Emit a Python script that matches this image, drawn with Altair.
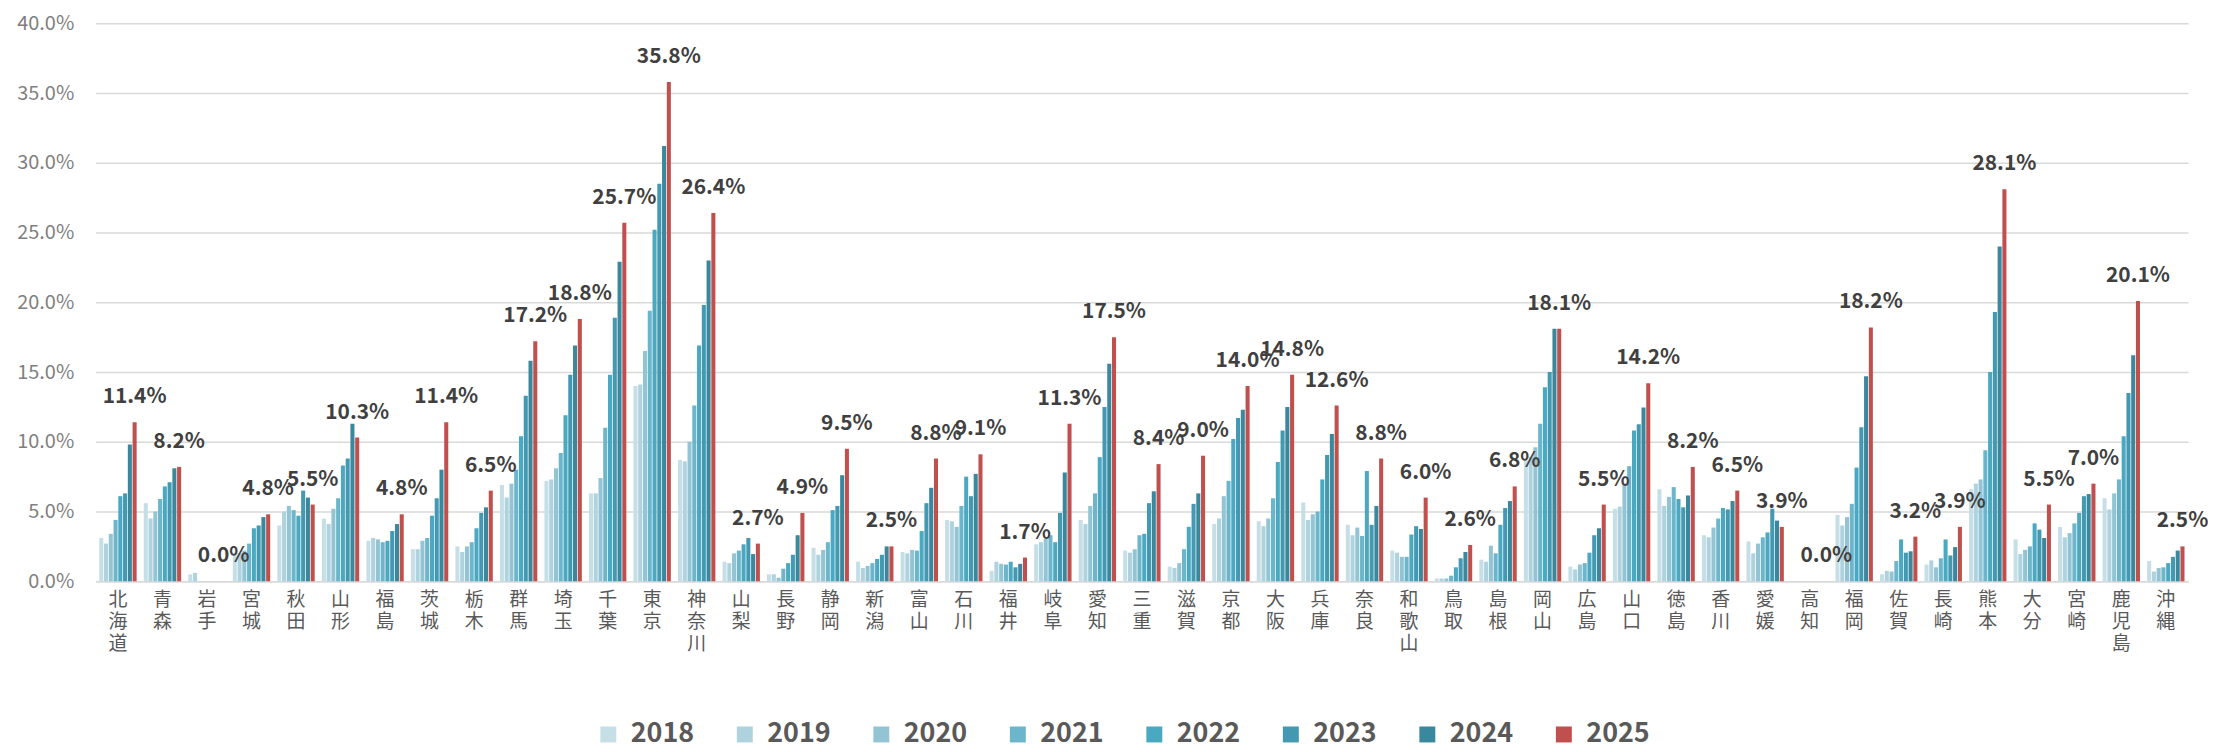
import altair as alt
import pandas as pd

prefs = ["北海道","青森","岩手","宮城","秋田","山形","福島","茨城","栃木","群馬","埼玉","千葉","東京","神奈川",
         "山梨","長野","静岡","新潟","富山","石川","福井","岐阜","愛知","三重","滋賀","京都","大阪","兵庫","奈良",
         "和歌山","鳥取","島根","岡山","広島","山口","徳島","香川","愛媛","高知","福岡","佐賀","長崎","熊本","大分",
         "宮崎","鹿児島","沖縄"]

years = ["2018","2019","2020","2021","2022","2023","2024","2025"]

y2018 = [3.1,5.6,0.5,1.9,4.0,4.5,2.9,2.3,2.5,6.9,7.2,6.3,14.0,8.7,1.4,0.5,2.4,1.4,2.1,4.4,0.75,2.65,4.4,2.2,1.05,4.1,4.3,5.65,4.05,2.2,0.2,1.55,8.7,1.05,5.2,6.6,3.3,2.85,0,4.75,0.5,1.2,6.6,3.0,3.9,5.95,1.45]
y2019 = [2.7,4.5,0.6,2.0,5.0,4.1,3.1,2.3,2.1,6.0,7.3,6.3,14.1,8.6,1.3,0.5,1.9,0.95,2.0,4.3,1.4,2.8,4.1,2.05,0.95,4.5,3.95,4.4,3.3,2.05,0.2,1.4,8.9,0.85,5.35,5.4,3.15,2.0,0,4.0,0.75,1.5,7.0,1.95,3.15,5.15,0.7]
y2020 = [3.4,5.0,0,2.2,5.4,5.2,3.0,2.9,2.5,7.0,8.1,7.4,16.5,10.0,2.0,0.25,2.25,1.1,2.25,3.9,1.25,3.05,5.4,2.3,1.3,6.1,4.5,4.8,3.85,1.75,0.2,2.55,9.6,1.2,7.0,6.05,3.85,2.7,0,4.6,0.7,1.0,7.3,2.25,3.45,6.3,0.95]
y2021 = [4.4,5.9,0,2.7,5.1,5.95,2.8,3.1,2.8,8.0,9.2,11.0,19.4,12.6,2.2,0.9,2.8,1.3,2.2,5.4,1.2,3.3,6.3,3.3,2.3,7.2,5.95,5.0,3.25,1.75,0.4,2.0,11.3,1.3,8.25,6.75,4.5,3.15,0,5.55,1.45,1.65,9.4,2.5,4.15,7.3,1.0]
y2022 = [6.1,6.8,0,3.8,4.7,8.3,2.9,4.7,3.8,10.4,11.9,14.8,25.2,16.9,2.65,1.3,5.1,1.6,3.6,7.5,1.4,2.8,8.9,3.4,3.9,10.2,8.55,7.3,7.9,3.35,1.0,4.05,13.9,2.05,10.8,5.9,5.25,3.5,0,8.15,3.0,3.0,15.0,4.15,4.9,10.4,1.3]
y2023 = [6.3,7.1,0,4.0,6.5,8.8,3.6,5.95,4.9,13.3,14.8,18.9,28.5,19.8,3.1,1.9,5.4,1.9,5.6,6.1,1.0,4.9,12.5,5.6,5.55,11.7,10.8,9.05,4.05,3.95,1.65,5.25,15.0,3.3,11.25,5.3,5.15,5.2,0,11.05,2.05,1.85,19.3,3.7,6.1,13.5,1.75]
y2024 = [9.8,8.1,0,4.6,6.0,11.3,4.1,8.0,5.3,15.8,16.9,22.9,31.2,23.0,1.95,3.3,7.6,2.5,6.7,7.7,1.25,7.8,15.6,6.45,6.3,12.3,12.5,10.55,5.4,3.75,2.1,5.75,18.1,3.8,12.45,6.15,5.75,4.35,0,14.7,2.15,2.45,24.0,3.1,6.25,16.2,2.2]
y2025 = [11.4,8.2,0.0,4.8,5.5,10.3,4.8,11.4,6.5,17.2,18.8,25.7,35.8,26.4,2.7,4.9,9.5,2.5,8.8,9.1,1.7,11.3,17.5,8.4,9.0,14.0,14.8,12.6,8.8,6.0,2.6,6.8,18.1,5.5,14.2,8.2,6.5,3.9,0.0,18.2,3.2,3.9,28.1,5.5,7.0,20.1,2.5]

colors = ["#c6dfe7","#aed3df","#93c4d4","#6cb5ca","#4aa9c1","#4399b1","#3a889d","#c0504d"]

series = [y2018, y2019, y2020, y2021, y2022, y2023, y2024, y2025]
rows = []
for yr, vals in zip(years, series):
    assert len(vals) == len(prefs)
    for p, v in zip(prefs, vals):
        rows.append({"pref": p, "year": yr, "value": v / 100.0})
df = pd.DataFrame(rows)

FONT = "Noto Sans CJK JP"

x_enc = alt.X(
    "pref:N", sort=prefs,
    scale=alt.Scale(paddingInner=0.16, paddingOuter=0.08),
    axis=alt.Axis(title=None, labelAngle=0, labelExpr="split(datum.label, '')",
                  labelFont=FONT, labelFontSize=19, labelColor="#595959",
                  labelLineHeight=22, labelPadding=9, labelBaseline="top",
                  ticks=False, domainColor="#d9d9d9", domainWidth=1.5)
)
y_enc = alt.Y(
    "value:Q",
    scale=alt.Scale(domain=[0, 0.4]),
    axis=alt.Axis(title=None, format=".1%",
                  values=[0, 0.05, 0.1, 0.15, 0.2, 0.25, 0.3, 0.35, 0.4],
                  labelFont=FONT, labelFontSize=20, labelColor="#7f7f7f",
                  labelPadding=22, ticks=False, domain=False,
                  gridColor="#d9d9d9", gridWidth=1.5)
)
xoff = alt.XOffset("year:N", scale=alt.Scale(domain=years, paddingInner=0.15))

bars = alt.Chart(df).mark_bar().encode(
    x=x_enc, y=y_enc, xOffset=xoff,
    color=alt.Color("year:N", scale=alt.Scale(domain=years, range=colors),
                    legend=alt.Legend(title=None, orient="none", legendX=501, legendY=700,
                                      direction="horizontal", symbolType="square",
                                      symbolSize=256, symbolStrokeWidth=0,
                                      labelFont=FONT, labelFontSize=27, labelFontWeight="bold",
                                      labelColor="#595959", labelOffset=9, columnPadding=37))
)

labels = alt.Chart(df).transform_filter(alt.datum.year == "2025").mark_text(
    dy=-19, baseline="alphabetic", align="center", font=FONT,
    fontSize=21, fontWeight="bold", color="#404040"
).encode(
    x=alt.X("pref:N", sort=prefs), y="value:Q", xOffset=xoff,
    text=alt.Text("value:Q", format=".1%")
)

chart = alt.layer(bars, labels).properties(
    width=2100, height=560,
    padding={"left": 88, "top": 14, "right": 20, "bottom": 170},
    autosize="none"
).configure_view(stroke=None)

chart.save("out.html", embed_options={"renderer": "svg", "actions": False})
